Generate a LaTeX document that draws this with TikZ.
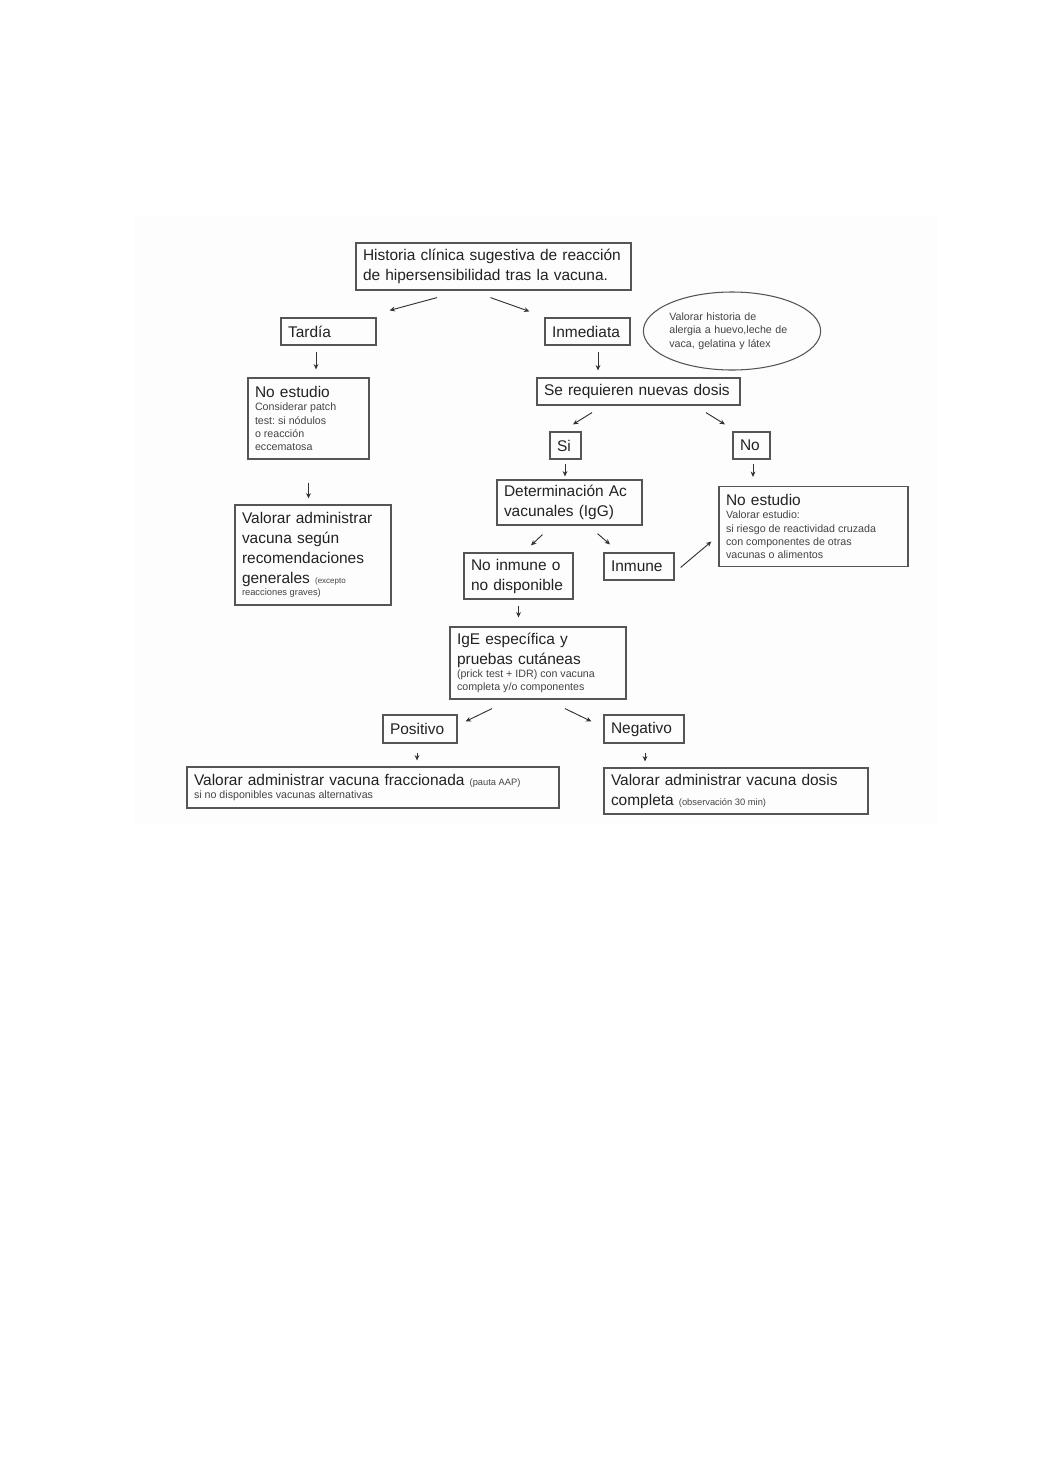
\documentclass[tikz,border=0pt]{standalone}
\usepackage{fontspec}
\setmainfont{Liberation Sans}
\usetikzlibrary{calc,arrows.meta,shapes.geometric}
\definecolor{txtc}{HTML}{222222}
\definecolor{smc}{HTML}{444444}
\definecolor{brd}{HTML}{555555}
\definecolor{arrc}{HTML}{333333}
\definecolor{bgc}{HTML}{FDFDFD}
\newcommand\mainf{\fontsize{11.6}{15}\selectfont}
\newcommand\smallf{\fontsize{8}{10}\selectfont\color{smc}\raggedright\rightskip=0pt plus 1fil\spaceskip=.278em\relax\xspaceskip=.278em\relax}
\newcommand\tinyf{\fontsize{7}{9}\selectfont\color{smc}\raggedright\rightskip=0pt plus 1fil\spaceskip=.278em\relax\xspaceskip=.278em\relax}
\newcommand\tiniest{\fontsize{6}{8}\selectfont\color{smc}}
\tikzset{
  box/.style={draw=brd, line width=0.9pt, rectangle, inner xsep=5.25pt, inner ysep=0pt,
              align=left, text=txtc, font=\mainf},
  arr/.style={draw=arrc, line width=0.7pt, -{Stealth[length=4pt,width=3.6pt]}},
}
\begin{document}
\begin{tikzpicture}[x=0.75pt,y=-0.75pt]
\useasboundingbox (0,0) rectangle (1040,1471);
\fill[bgc] (134,216) rectangle (938,823);

\node[box, minimum width=206.25pt, minimum height=35.25pt, text width=195.75pt] (hist) at (493.5,266.5)
  {Historia clínica sugestiva de reacción\\de hipersensibilidad tras la vacuna.};
\node[box, minimum width=71.25pt, minimum height=20.25pt, text width=60.75pt] (tard) at (328.5,331.5) {Tardía};
\node[box, minimum width=63.75pt, minimum height=20.25pt, text width=53.25pt] (inm) at (587.5,331.5) {Inmediata};
\node[draw=brd, line width=0.8pt, ellipse, inner sep=0pt, minimum width=121.5pt, minimum height=58.5pt,
      text width=94pt, align=left, font=\smallf] (ell) at (732,331)
  {Valorar historia de\\alergia a huevo,leche de\\vaca, gelatina y látex};
\node[box, minimum width=90.75pt, minimum height=60.75pt, text width=80.25pt] (noest1) at (308.5,418.5)
  {No estudio\par{\smallf Considerar patch\par test: si nódulos\par o reacción\par eccematosa\par}};
\node[box, minimum width=152.25pt, minimum height=20.25pt, text width=141.75pt] (serq) at (638.5,391.5) {Se requieren nuevas dosis};
\node[box, minimum width=23.25pt, minimum height=20.25pt, text width=12.75pt] (si) at (565.5,445.5) {Si};
\node[box, minimum width=27.75pt, minimum height=20.25pt, text width=17.25pt] (no) at (751.5,445.5) {No};
\node[box, minimum width=108.75pt, minimum height=33.75pt, text width=98.25pt] (det) at (569.5,502.5)
  {Determinación Ac\\vacunales (IgG)};
\node[box, minimum width=141.75pt, minimum height=60pt, text width=131.25pt] (noest2) at (813.5,526.5)
  {No estudio\par{\smallf Valorar estudio:\par si riesgo de reactividad cruzada\par con componentes de otras\par vacunas o alimentos\par}};
\node[box, minimum width=117pt, minimum height=75pt, text width=106.5pt] (val1) at (313,555)
  {Valorar administrar\\vacuna según\\recomendaciones\\generales {\tiniest (excepto}\par{\tinyf reacciones graves)\par}};
\node[box, minimum width=81.75pt, minimum height=34.5pt, text width=71.25pt] (noinm) at (518.5,576)
  {No inmune o\\no disponible};
\node[box, minimum width=52.5pt, minimum height=20.25pt, text width=42pt] (inmu) at (639,566.5) {Inmune};
\node[box, minimum width=132pt, minimum height=54pt, text width=121.5pt] (ige) at (538,663)
  {IgE específica y\\pruebas cutáneas\par{\smallf (prick test + IDR) con vacuna\par completa y/o componentes\par}};
\node[box, minimum width=55.5pt, minimum height=21pt, text width=45pt] (pos) at (420,729) {Positivo};
\node[box, minimum width=60pt, minimum height=21pt, text width=49.5pt] (neg) at (644,729) {Negativo};
\node[box, minimum width=279pt, minimum height=30.75pt, text width=268.5pt] (frac) at (373,787.5)
  {Valorar administrar vacuna fraccionada {\tinyf (pauta AAP)}\par{\smallf si no disponibles vacunas alternativas\par}};
\node[box, minimum width=198pt, minimum height=34.5pt, text width=187.5pt] (comp) at (736,791)
  {Valorar administrar vacuna dosis\\completa {\tinyf (observación 30 min)}};

\draw[arr] ($(hist.south)+(-56.5,7)$) -- ($(tard.north east)+(13,-7)$);
\draw[arr] ($(hist.south)+(-3,7)$) -- ($(inm.north west)+(-15,-6)$);
\draw[arr] ($(tard.south)+(-12.5,6)$) -- ($(noest1.north)+(7.5,-8)$);
\draw[arr] ($(inm.south)+(10.5,6)$) -- ($(serq.north)+(-40.5,-7)$);
\draw[arr] ($(serq.south)+(-46.5,7)$) -- ($(si.north)+(7.5,-7)$);
\draw[arr] ($(serq.south)+(67.5,7)$) -- ($(no.north)+(-26.5,-7)$);
\draw[arr] ($(si.south)+(-0.5,4)$) -- ($(det.north)+(-4.5,-3)$);
\draw[arr] ($(no.south)+(1.5,4)$) -- ($(noest2.north)+(-60.5,-9)$);
\draw[arr] ($(noest1.south)+(0,23)$) -- ($(val1.north)+(-4.5,-6)$);
\draw[arr] ($(det.south)+(-27,9)$) -- ($(noinm.north)+(12.5,-7)$);
\draw[arr] ($(det.south)+(28,8)$) -- ($(inmu.north)+(-29,-8)$);
\draw[arr] ($(inmu.east)+(6,1)$) -- ($(noest2.west)+(-7,15)$);
\draw[arr] ($(noinm.south)+(0,6)$) -- ($(ige.north)+(-19.5,-9)$);
\draw[arr] ($(ige.south)+(-46,9)$) -- ($(pos.north east)+(8,7)$);
\draw[arr] ($(ige.south)+(27,9)$) -- ($(neg.north west)+(-12,7)$);
\draw[arr] ($(pos.south)+(-3,9)$) -- ($(frac.north)+(44,-6)$);
\draw[arr] ($(neg.south)+(1,9)$) -- ($(comp.north)+(-91,-6)$);
\end{tikzpicture}
\end{document}
